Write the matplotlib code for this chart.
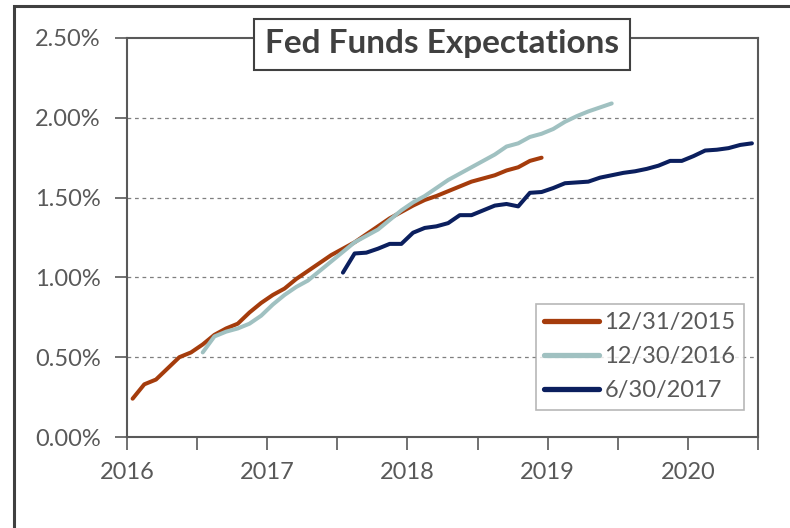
import numpy as np
import matplotlib
matplotlib.use("Agg")
import matplotlib.pyplot as plt
from matplotlib.patches import Rectangle
from matplotlib.ticker import FuncFormatter, MultipleLocator

# monthly expected fed funds rate (%) along each curve
red_start = 2016.04
red_vals = [0.24, 0.33, 0.36, 0.43, 0.50, 0.53, 0.58, 0.64, 0.68, 0.71, 0.78, 0.84,
            0.89, 0.93, 0.99, 1.04, 1.09, 1.14, 1.18, 1.22, 1.27, 1.32, 1.37, 1.41,
            1.45, 1.485, 1.51, 1.54, 1.57, 1.60, 1.62, 1.64, 1.67, 1.69, 1.73, 1.75]

teal_start = 2016.54
teal_vals = [0.53, 0.63, 0.66, 0.68, 0.71, 0.76, 0.83, 0.89, 0.94, 0.98, 1.04, 1.10,
             1.16, 1.22, 1.26, 1.30, 1.36, 1.42, 1.47, 1.51, 1.56, 1.61, 1.65, 1.69,
             1.73, 1.77, 1.82, 1.84, 1.88, 1.90, 1.93, 1.975, 2.01, 2.04, 2.065, 2.09]

navy_start = 2017.54
navy_vals = [1.03, 1.15, 1.155, 1.18, 1.21, 1.21, 1.28, 1.31, 1.32, 1.34, 1.39, 1.39,
             1.42, 1.45, 1.46, 1.445, 1.53, 1.535, 1.56, 1.59, 1.595, 1.60, 1.625, 1.64,
             1.655, 1.665, 1.68, 1.70, 1.73, 1.73, 1.76, 1.795, 1.80, 1.81, 1.83, 1.84]

labels = ["12/31/2015", "12/30/2016", "6/30/2017"]
colors = ["#A53C0C", "#A0C1C1", "#0B1F5E"]
year_ticks = [2016, 2017, 2018, 2019, 2020]

plt.rcParams['font.family'] = ['Lato', 'DejaVu Sans']
txt = "#595959"

fig = plt.figure(figsize=(7.9, 5.28), dpi=100)
ax = fig.add_axes([127/790, 1-437/528, (758-127)/790, (437-38)/528])

series = [(red_start, red_vals), (teal_start, teal_vals), (navy_start, navy_vals)]
for (start, vals), lab, col in zip(series, labels, colors):
    x = start + np.arange(len(vals)) / 12.0
    ax.plot(x, vals, color=col, lw=2.9, label=lab, solid_capstyle='round', zorder=3)

ax.set_xlim(2016, 2020.5)
ax.set_ylim(0, 2.5)
ax.xaxis.set_major_locator(MultipleLocator(0.5))
ax.xaxis.set_major_formatter(FuncFormatter(lambda v, p: str(int(v)) if v in year_ticks else ""))
ax.yaxis.set_major_locator(MultipleLocator(0.5))
ax.yaxis.set_major_formatter(FuncFormatter(lambda v, p: f"{v:.2f}%"))

for y in [0.5, 1.0, 1.5, 2.0]:
    ax.axhline(y, color="#7f7f7f", lw=0.9, ls=(0, (3, 3)), zorder=1)

for s in ax.spines.values():
    s.set_color("#595959")
    s.set_linewidth(1.5)
ax.tick_params(axis='both', colors="#595959", labelcolor=txt, labelsize=17,
               length=9, width=1.2, pad=10)
ax.tick_params(axis='x', pad=9)

ax.text(442/790, 1-44/528, "Fed Funds Expectations", transform=fig.transFigure,
        ha='center', va='center', fontsize=24, fontweight='bold', color="#404040",
        bbox=dict(boxstyle='square,pad=0.33', fc='white', ec="#404040", lw=1.5), zorder=5)

leg = fig.legend(loc='upper left', bbox_to_anchor=(536/790, 1-304/528), fontsize=17,
                 frameon=True, fancybox=False, handlelength=2.3, handletextpad=0.25,
                 labelspacing=0.55, borderpad=0.35, borderaxespad=0)
leg.get_frame().set_edgecolor("#a6a6a6")
leg.get_frame().set_linewidth(1.2)
for t in leg.get_texts():
    t.set_color(txt)
for h in leg.legend_handles:
    h.set_linewidth(3.8)

fig.patches.append(Rectangle((14/790, -0.02), 1.0, 1-6/528 + 0.02, transform=fig.transFigure,
                             fill=False, ec="#404040", lw=2.2))

fig.savefig("out.png", dpi=100)
